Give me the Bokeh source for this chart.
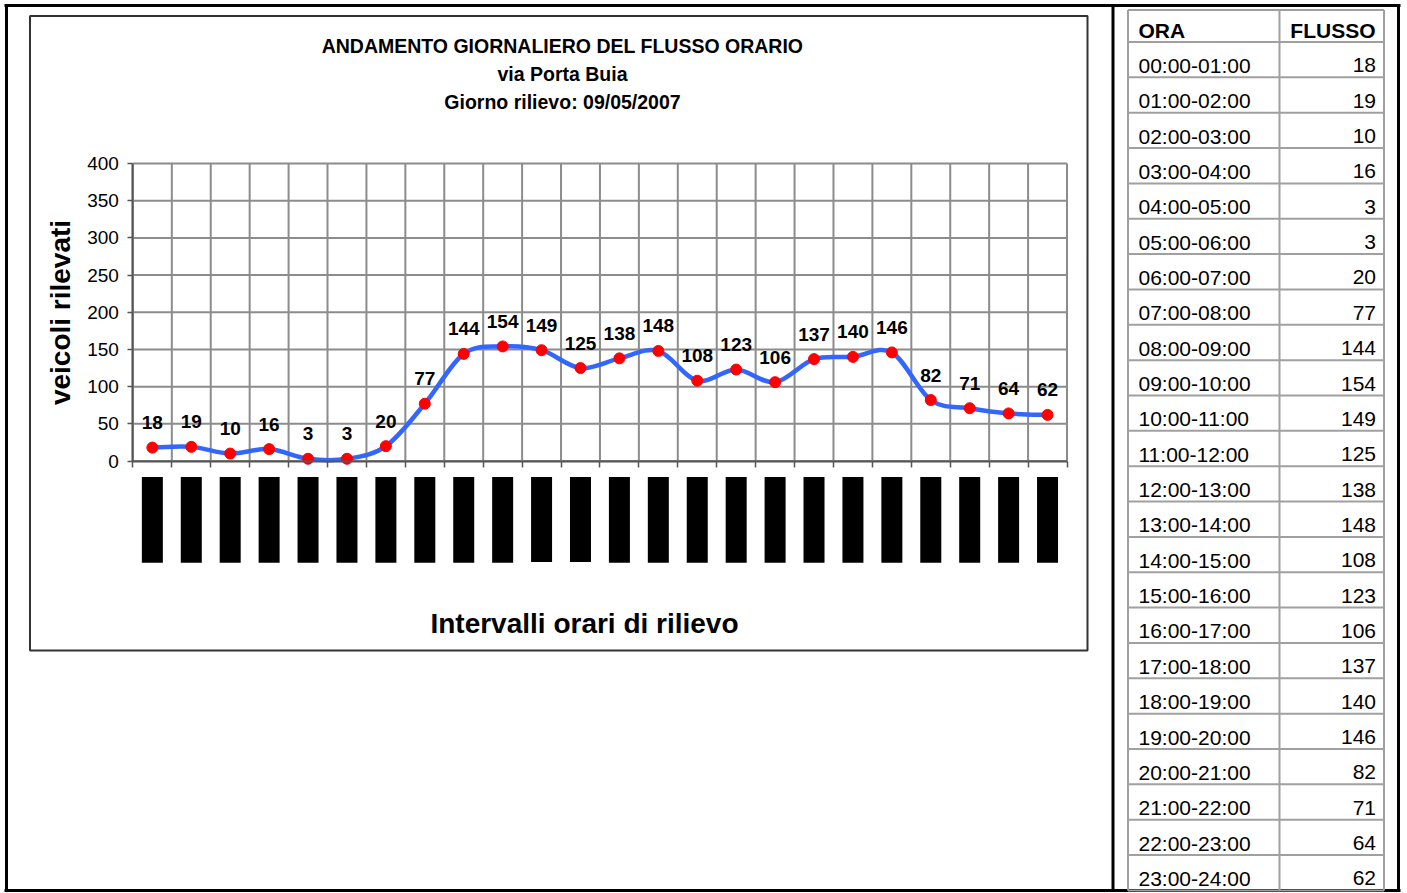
import math
from bokeh.plotting import figure
from bokeh.models import Range1d, LinearAxis, FixedTicker
from bokeh.core.properties import value
from bokeh.embed import file_html
from bokeh.resources import INLINE

# ---------------- data ----------------
ore = ["00:00-01:00", "01:00-02:00", "02:00-03:00", "03:00-04:00", "04:00-05:00",
       "05:00-06:00", "06:00-07:00", "07:00-08:00", "08:00-09:00", "09:00-10:00",
       "10:00-11:00", "11:00-12:00", "12:00-13:00", "13:00-14:00", "14:00-15:00",
       "15:00-16:00", "16:00-17:00", "17:00-18:00", "18:00-19:00", "19:00-20:00",
       "20:00-21:00", "21:00-22:00", "22:00-23:00", "23:00-24:00"]
flusso = [18, 19, 10, 16, 3, 3, 20, 77, 144, 154, 149, 125,
          138, 148, 108, 123, 106, 137, 140, 146, 82, 71, 64, 62]
y_ticks = [0, 50, 100, 150, 200, 250, 300, 350, 400]
titolo = ["ANDAMENTO GIORNALIERO DEL FLUSSO ORARIO", "via Porta Buia",
          "Giorno rilievo: 09/05/2007"]
y_label = "veicoli rilevati"
x_label = "Intervalli orari di rilievo"
col_headers = ["ORA", "FLUSSO"]

# ---------------- layout (pixels) ----------------
W, H = 1407, 893
PL, PR, PT, PB = 132.4, 1066.5, 163.0, 460.5
n = len(ore)
ymax = y_ticks[-1]
ux = (PR - PL) / n
ky = (PB - PT) / ymax
FONT = "Liberation Sans"

p = figure(width=W, height=H, output_backend="svg", toolbar_location=None,
           x_range=Range1d(-PL / ux, (W - PL) / ux),
           y_range=Range1d(-(H - PB) / ky, ymax + PT / ky),
           x_axis_location=None, y_axis_location=None, min_border=0)
p.outline_line_color = None
p.grid.visible = False
p.title.visible = False
p.background_fill_color = "white"
p.border_fill_color = "white"
p.extra_x_ranges = {"px": Range1d(0, W)}
p.extra_y_ranges = {"py": Range1d(H, 0)}

# ---------------- frames / borders ----------------
p.quad(left=[29.5], right=[1087], top=[15.5], bottom=[650],
       x_range_name="px", y_range_name="py",
       fill_color=None, line_color="#333333", line_width=2)
p.segment(x0=[6, 4, 1398, 4, 1112.5], y0=[4, 5, 4, 890, 5],
          x1=[6, 1400, 1398, 1400, 1112.5], y1=[891, 5, 891, 890, 890],
          x_range_name="px", y_range_name="py", line_color="black", line_width=3)

# ---------------- chart grid ----------------
xs = list(range(n + 1))
p.segment(x0=xs, y0=[0] * len(xs), x1=xs, y1=[ymax] * len(xs),
          line_color="#8c8c8c", line_width=2)
p.segment(x0=[0] * len(y_ticks), y0=y_ticks, x1=[n] * len(y_ticks), y1=y_ticks,
          line_color="#8c8c8c", line_width=2)

# ---------------- smoothed line ----------------
cx = [i + 0.5 for i in range(n)]
px_ = [cx[0]] + cx + [cx[-1]]
py_ = [flusso[0]] + flusso + [flusso[-1]]
t = 1.0 / 6.0
bx0, by0, bx1, by1, c0x, c0y, c1x, c1y = [], [], [], [], [], [], [], []
for i in range(n - 1):
    a = i + 1
    bx0.append(px_[a]); by0.append(py_[a])
    bx1.append(px_[a + 1]); by1.append(py_[a + 1])
    c0x.append(px_[a] + (px_[a + 1] - px_[a - 1]) * t)
    c0y.append(py_[a] + (py_[a + 1] - py_[a - 1]) * t)
    c1x.append(px_[a + 1] - (px_[a + 2] - px_[a]) * t)
    c1y.append(py_[a + 1] - (py_[a + 2] - py_[a]) * t)
p.bezier(x0=bx0, y0=by0, x1=bx1, y1=by1, cx0=c0x, cy0=c0y, cx1=c1x, cy1=c1y,
         line_color="#3366FF", line_width=4.5, line_cap="round")

p.scatter(cx, flusso, size=11, fill_color="#FF0000", line_color="#FF0000")

p.text(cx, flusso, text=[str(v) for v in flusso], text_align="center",
       text_baseline="middle", y_offset=-25, text_color="black",
       text_font=value(FONT), text_font_style="bold", text_font_size="19px")

# category labels (rendered as solid black blocks as in the original)
p.text(cx, [0] * n, text=ore, angle=math.pi / 2, text_align="right",
       text_baseline="middle", y_offset=16, text_color="black",
       background_fill_color="black", padding=2,
       text_font=value(FONT), text_font_style="bold", text_font_size="15px")

# ---------------- axes ----------------
yax = LinearAxis(fixed_location=0, bounds=(0, ymax), ticker=FixedTicker(ticks=y_ticks),
                 axis_label=y_label)
yax.axis_line_color = "#555555"
yax.axis_line_width = 2
yax.major_tick_line_color = "#555555"
yax.major_tick_line_width = 1.5
yax.major_tick_out = 5
yax.major_tick_in = 0
yax.minor_tick_line_color = None
yax.major_label_standoff = 9
yax.major_label_text_font = FONT
yax.major_label_text_font_size = "19px"
yax.major_label_text_color = "black"
yax.axis_label_text_font = FONT
yax.axis_label_text_font_style = "bold"
yax.axis_label_text_font_size = "28px"
yax.axis_label_text_color = "black"
yax.axis_label_standoff = 8
p.add_layout(yax, "left")

xax = LinearAxis(fixed_location=0, bounds=(0, n), ticker=FixedTicker(ticks=xs))
xax.axis_line_color = "#555555"
xax.axis_line_width = 2
xax.major_tick_line_color = "#555555"
xax.major_tick_line_width = 1.5
xax.major_tick_out = 6
xax.major_tick_in = 0
xax.minor_tick_line_color = None
xax.major_label_text_color = None
xax.major_label_text_alpha = 0
p.add_layout(xax, "below")

xlab = LinearAxis(fixed_location=0, bounds=(-0.8, n), ticker=FixedTicker(ticks=[]),
                  axis_label=x_label)
xlab.axis_line_color = None
xlab.major_tick_line_color = None
xlab.minor_tick_line_color = None
xlab.major_tick_out = 0
xlab.major_label_standoff = 0
xlab.axis_label_text_font = FONT
xlab.axis_label_text_font_style = "bold"
xlab.axis_label_text_font_size = "28px"
xlab.axis_label_text_color = "black"
xlab.axis_label_standoff = 146
p.add_layout(xlab, "below")

# ---------------- titles ----------------
p.text(x=[562] * 3, y=[45, 73, 101], text=titolo, x_range_name="px", y_range_name="py",
       text_align="center", text_baseline="middle", text_color="black",
       text_font=value(FONT), text_font_style="bold", text_font_size="19.5px")

# ---------------- table ----------------
TL, TC, TR = 1127.5, 1279.0, 1383.5
top0, head_bot, row_h = 9.5, 41.5, 35.35
row_lines = [top0, head_bot] + [head_bot + row_h * (k + 1) for k in range(n)]
p.segment(x0=[TL] * len(row_lines), y0=row_lines, x1=[TR] * len(row_lines), y1=row_lines,
          x_range_name="px", y_range_name="py", line_color="#a0a0a0", line_width=2)
p.segment(x0=[TL, TC, TR], y0=[top0] * 3, x1=[TL, TC, TR], y1=[row_lines[-1]] * 3,
          x_range_name="px", y_range_name="py", line_color="#a0a0a0", line_width=2)

p.text(x=[TL + 10.5], y=[head_bot - 12], text=[col_headers[0]], x_range_name="px",
       y_range_name="py", text_align="left", text_baseline="middle",
       text_color="black", text_font=value(FONT), text_font_style="bold",
       text_font_size="21px")
p.text(x=[TR - 8.5], y=[head_bot - 12], text=[col_headers[1]], x_range_name="px",
       y_range_name="py", text_align="right", text_baseline="middle",
       text_color="black", text_font=value(FONT), text_font_style="bold",
       text_font_size="21px")

row_mid = [head_bot + row_h * (k + 1) - 12 for k in range(n)]
p.text(x=[TL + 10.5] * n, y=row_mid, text=ore, x_range_name="px", y_range_name="py",
       text_align="left", text_baseline="middle", text_color="black",
       text_font=value(FONT), text_font_size="21px")
p.text(x=[TR - 8] * n, y=row_mid, text=[str(v) for v in flusso], x_range_name="px",
       y_range_name="py", text_align="right", text_baseline="middle",
       text_color="black", text_font=value(FONT), text_font_size="21px")

open("out.html", "w").write(file_html(p, INLINE))
